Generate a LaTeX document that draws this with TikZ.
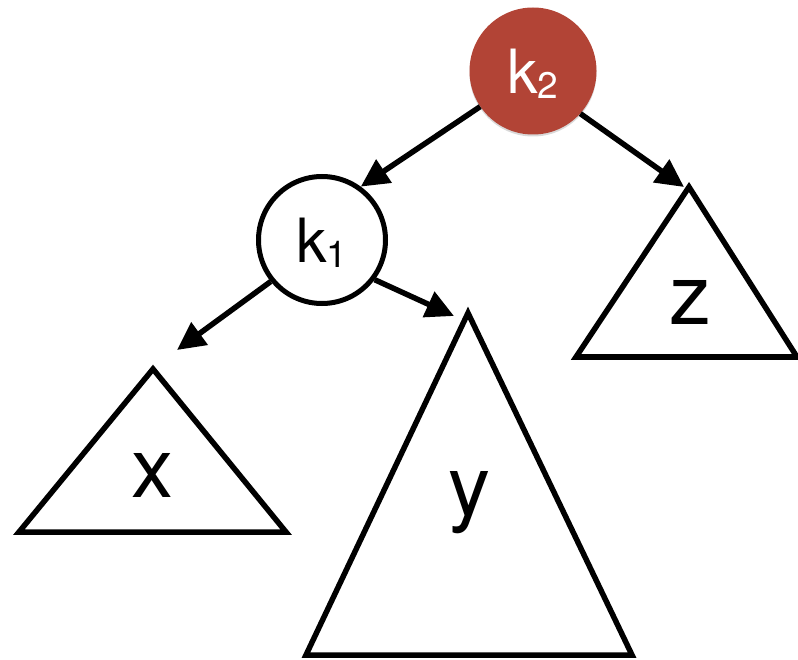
\documentclass[tikz,border=0pt]{standalone}
\usepackage{fontspec}
\setmainfont{TeX Gyre Heros}
\usetikzlibrary{arrows.meta, shadows}
\definecolor{keyred}{RGB}{178,68,54}

\tikzset{
  keynode/.style={circle, minimum size=127pt, inner sep=0pt, font=\fontsize{61}{61}\selectfont},
  subtree/.style={line width=5.5pt, line join=miter},
  link/.style={line width=5.5pt, -{Triangle[length=28pt, width=27pt]}},
  treelabel/.style={anchor=base, inner sep=0pt, font=\fontsize{84}{84}\selectfont}
}
\newcommand{\keytext}[1]{\rule{0pt}{50pt}k\raisebox{-5pt}{\fontsize{37}{37}\selectfont #1}}

\begin{document}
\begin{tikzpicture}[x=1pt, y=-1pt]
\useasboundingbox (0,0) rectangle (798,660);

% Keys
\node[keynode, fill=keyred, text=white, drop shadow={shadow xshift=0pt, shadow yshift=-2pt, opacity=0.3}] (k2) at (533,71) {\keytext{2}};
\node[keynode, draw, line width=5pt, fill=white] (k1) at (322,240) {\keytext{1}};

% Subtrees
\coordinate (xtop) at (153,369);
\coordinate (ytop) at (468,313);
\coordinate (ztop) at (689,187);
\draw[subtree] (xtop) -- (286,532) -- (19,532) -- cycle;
\draw[subtree] (ytop) -- (632,655) -- (306,655) -- cycle;
\draw[subtree] (ztop) -- (797,357) -- (576,357) -- cycle;
\node[treelabel] (xlabel) at (152,497) {x};
\node[treelabel] (ylabel) at (469,515) {y};
\node[treelabel] (zlabel) at (690,325) {z};

% Links
\coordinate (xin) at (177,350);
\coordinate (yin) at (454,316);
\coordinate (zin) at (684,187);
\draw[link] (k2.214) -- (k1.54);
\draw[link] (k2.318) -- (zin);
\draw[link] (k1.219) -- (xin);
\draw[link] (k1.323) -- (yin);
\end{tikzpicture}
\end{document}
